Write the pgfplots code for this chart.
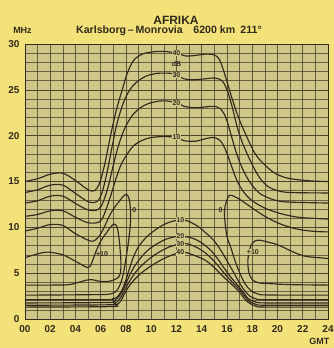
\documentclass[border=0pt]{standalone}
\usepackage{fontspec}
\setmainfont{Liberation Sans}
\usepackage{pgfplots}
\pgfplotsset{compat=1.18}
\definecolor{pagebg}{RGB}{243,226,122}
\definecolor{plotbg}{RGB}{206,199,136}
\definecolor{ink}{RGB}{50,42,28}
\definecolor{gridc}{RGB}{72,62,40}
\begin{document}
\begin{tikzpicture}[x=1pt,y=1pt]
\useasboundingbox (-25,-29) rectangle (309,319);
\fill[pagebg] (-25,-29) rectangle (309,319);
\begin{axis}[
  at={(0,0)}, anchor=south west,
  scale only axis, width=303pt, height=275pt,
  xmin=0,xmax=24,ymin=0,ymax=30,
  xtick={0,2,...,24}, xticklabels={00,02,04,06,08,10,12,14,16,18,20,22,24},
  minor xtick={1,3,...,23},
  ytick={0,5,...,30}, minor ytick={1,...,29},
  grid=both,
  major grid style={gridc, line width=0.62pt, opacity=0.8},
  minor grid style={gridc, line width=0.55pt, opacity=0.75},
  tick style={draw=none},
  axis line style={ink, line width=0.9pt},
  axis background/.style={fill=plotbg},
  ticklabel style={font=\bfseries\fontsize{10}{12}\selectfont, text=ink},
  xticklabel style={yshift=-3pt},
  yticklabel style={xshift=-2pt},
  /pgf/number format/assume math mode=true,
  cycle list={{ink, solid}},
  every axis plot post/.append style={ink, solid, line width=1.15pt, smooth, tension=0.55, mark=none},
  clip=true,
]
% upper branches
\addplot coordinates {(0,15.0) (1,15.3) (2,15.8) (3,15.9) (4,15.1) (5,14.1) (5.5,14.0) (5.9,14.8) (6.3,16.8) (6.7,19.5) (7.2,22.6) (7.7,25.0) (8.1,26.8) (8.6,28.2) (9.3,28.9) (10.2,29.15) (11,29.2) (12,29.0) (12.7,28.7) (13.5,28.75) (14.3,28.9) (15,28.8) (15.4,28.3) (15.8,26.8) (16.3,24.5) (16.8,22.4) (17.3,20.7) (18.2,18.1) (19,16.8) (19.8,15.9) (20.7,15.4) (21.6,15.2) (22.8,15.05) (24,15.0)};
\addplot coordinates {(0,13.8) (1,14.1) (2,14.6) (3,14.6) (4,13.7) (5,12.8) (5.7,12.8) (6.1,13.8) (6.5,16.0) (6.9,18.8) (7.3,21.4) (7.8,23.6) (8.3,25.0) (8.9,25.9) (9.6,26.5) (10.5,26.8) (11.5,26.8) (12,26.6) (12.6,26.2) (13.3,26.1) (14.3,26.2) (15,26.3) (15.6,26.0) (16.0,25.0) (16.4,23.2) (16.8,21.0) (17.2,19.3) (17.7,17.7) (18.2,16.3) (18.7,15.2) (19.3,14.4) (20,14.0) (21,13.8) (24,13.75)};
\addplot coordinates {(0,12.65) (1,12.9) (2,13.4) (3,13.4) (4,12.6) (5,11.9) (5.8,11.95) (6.2,12.8) (6.6,14.5) (7.0,16.8) (7.4,18.9) (7.9,20.8) (8.5,22.2) (9.2,23.1) (10,23.6) (11,23.8) (12,23.6) (12.6,23.2) (13.5,23.05) (14.4,23.15) (15,23.2) (15.5,22.9) (15.9,22.0) (16.3,20.2) (16.7,18.3) (17.1,16.8) (17.6,15.4) (18.1,14.4) (18.6,13.7) (19.3,13.2) (20,12.9) (21,12.75) (24,12.65)};
\addplot coordinates {(0,11.2) (1,11.4) (2,11.8) (3,11.8) (4,11.1) (5,10.5) (5.9,10.6) (6.3,11.5) (6.8,13.5) (7.2,15.3) (7.6,16.8) (8.1,18.0) (8.6,18.9) (9.3,19.5) (10,19.8) (11,19.9) (12,19.8) (12.6,19.45) (13.5,19.4) (14.4,19.7) (15,19.8) (15.5,19.4) (15.9,18.4) (16.3,16.9) (16.7,15.4) (17.1,14.3) (17.6,13.4) (18.1,12.8) (19,12.1) (20,11.6) (21,11.25) (22,11.05) (24,10.9)};
% 0 contour dawn / dusk
\addplot coordinates {(0,9.6) (1,9.9) (2,10.3) (3,10.2) (4,9.3) (5,8.6) (5.4,8.5) (5.8,8.9) (6.2,9.8) (6.6,11.0) (7.0,12.0) (7.5,12.9) (7.8,13.4) (8.05,13.6) (8.25,13.1) (8.35,12.0) (8.35,10.5) (8.25,9.0) (8.1,7.5) (7.95,6.2) (7.8,5.0) (7.65,4.2) (7.45,3.5) (7.15,2.95) (6.6,2.7) (5,2.65) (0,2.6)};
\addplot coordinates {(24,9.5) (23,9.55) (22,9.7) (21,10.0) (20,10.5) (19,11.2) (18,12.1) (17.5,12.6) (17,13.05) (16.6,13.35) (16.2,13.5) (15.95,12.8) (15.8,11.8) (15.85,10.5) (16.0,9.0) (16.3,7.8) (16.65,6.3) (17.05,4.9) (17.45,3.8) (17.9,3.1) (18.4,2.75) (19.2,2.62) (24,2.6)};
% +10 contour dawn / dusk
\addplot coordinates {(0,6.7) (1,7.1) (1.8,7.3) (3,7.0) (4,6.3) (5.0,5.6) (5.3,6.2) (5.6,7.3) (6.0,8.5) (6.5,9.5) (6.85,10.15) (7.1,10.35) (7.3,10.0) (7.45,8.8) (7.55,7.3) (7.6,6.0) (7.55,5.0) (7.35,4.5) (6.8,4.15) (6.0,4.1) (5.2,4.3) (4.5,4.1) (3.5,3.75) (2,3.7) (0,3.7)};
\addplot coordinates {(24,6.6) (23.2,6.7) (22.4,6.8) (21.8,7.0) (21.1,7.4) (20.5,7.8) (19.8,8.2) (19.2,8.4) (18.6,8.6) (18.2,8.5) (17.9,8.0) (17.7,7.0) (17.65,6.0) (17.75,5.0) (18.0,4.3) (18.5,3.95) (19.5,3.85) (21,3.75) (24,3.7)};
% lower branches
\addplot coordinates {(0,2.1) (6.3,2.1) (6.9,2.2) (7.3,2.4) (7.7,3.2) (8.0,4.3) (8.3,5.6) (8.6,6.8) (9.0,7.9) (9.6,8.9) (10.3,9.7) (11,10.3) (11.8,10.7) (12.6,10.8) (13.2,10.5) (13.8,10.0) (14.4,9.3) (15.0,8.5) (15.6,7.3) (16.1,6.1) (16.6,4.9) (17.0,3.9) (17.4,3.1) (17.8,2.5) (18.3,2.2) (19,2.1) (24,2.1)};
\addplot coordinates {(0,1.75) (6.5,1.8) (7.0,1.95) (7.35,2.3) (7.7,3.0) (8.0,3.9) (8.3,4.8) (8.7,5.8) (9.3,6.9) (10,7.8) (11,8.6) (11.8,8.95) (12.6,9.0) (13.3,8.8) (14,8.3) (14.7,7.5) (15.3,6.5) (15.9,5.3) (16.4,4.4) (16.9,3.6) (17.3,2.9) (17.7,2.2) (18.2,1.9) (19,1.75) (24,1.75)};
\addplot coordinates {(0,1.5) (6.6,1.55) (7.1,1.7) (7.45,2.1) (7.8,2.9) (8.1,3.7) (8.5,4.6) (9,5.5) (9.7,6.4) (10.5,7.2) (11.5,7.9) (12.6,8.25) (13.3,8.0) (14,7.5) (14.7,6.7) (15.3,5.8) (15.9,4.8) (16.5,3.9) (17,3.2) (17.4,2.5) (17.8,1.9) (18.3,1.6) (19,1.5) (24,1.5)};
\addplot coordinates {(0,1.3) (6.7,1.35) (7.2,1.5) (7.55,1.9) (7.9,2.8) (8.2,3.5) (8.6,4.2) (9.2,5.0) (10,5.8) (11,6.6) (12,7.15) (12.6,7.3) (13.3,7.0) (14.3,6.4) (15,5.6) (15.8,4.5) (16.5,3.6) (17,2.9) (17.4,2.2) (17.8,1.7) (18.3,1.4) (19,1.3) (24,1.3)};
% curve labels
\tikzset{cl/.style={font=\bfseries\fontsize{7}{8}\selectfont, text=ink, fill=plotbg, inner sep=0.5pt}}
\node[cl] at (axis cs:12.0,29.0) {40};
\node[cl, fill=none] at (axis cs:12.0,27.8) {dB};
\node[cl] at (axis cs:12.0,26.6) {30};
\node[cl] at (axis cs:12.0,23.6) {20};
\node[cl] at (axis cs:12.0,19.8) {10};
\node[cl] at (axis cs:12.3,10.8) {10};
\node[cl] at (axis cs:12.3,9.0) {20};
\node[cl] at (axis cs:12.3,8.2) {30};
\node[cl] at (axis cs:12.3,7.25) {40};
\node[cl, fill=none] at (axis cs:8.65,11.9) {0};
\node[cl, fill=none] at (axis cs:15.5,11.9) {0};
\node[cl, fill=none] at (axis cs:6.1,7.1) {+10};
\node[cl] at (axis cs:18.05,7.3) {+10};
\end{axis}
\node[font=\bfseries\fontsize{12}{14}\selectfont, text=ink] at (151,299) {AFRIKA};
\node[font=\bfseries\fontsize{10.6}{12}\selectfont, text=ink] at (144,288) {Karlsborg\,–\,Monrovia\quad 6200 km\enspace 211°};
\node[font=\bfseries\fontsize{9}{11}\selectfont, text=ink] at (-2.5,289) {MHz};
\node[font=\bfseries\fontsize{9}{11}\selectfont, text=ink, anchor=east] at (308,-22.5) {GMT};
\end{tikzpicture}
\end{document}
